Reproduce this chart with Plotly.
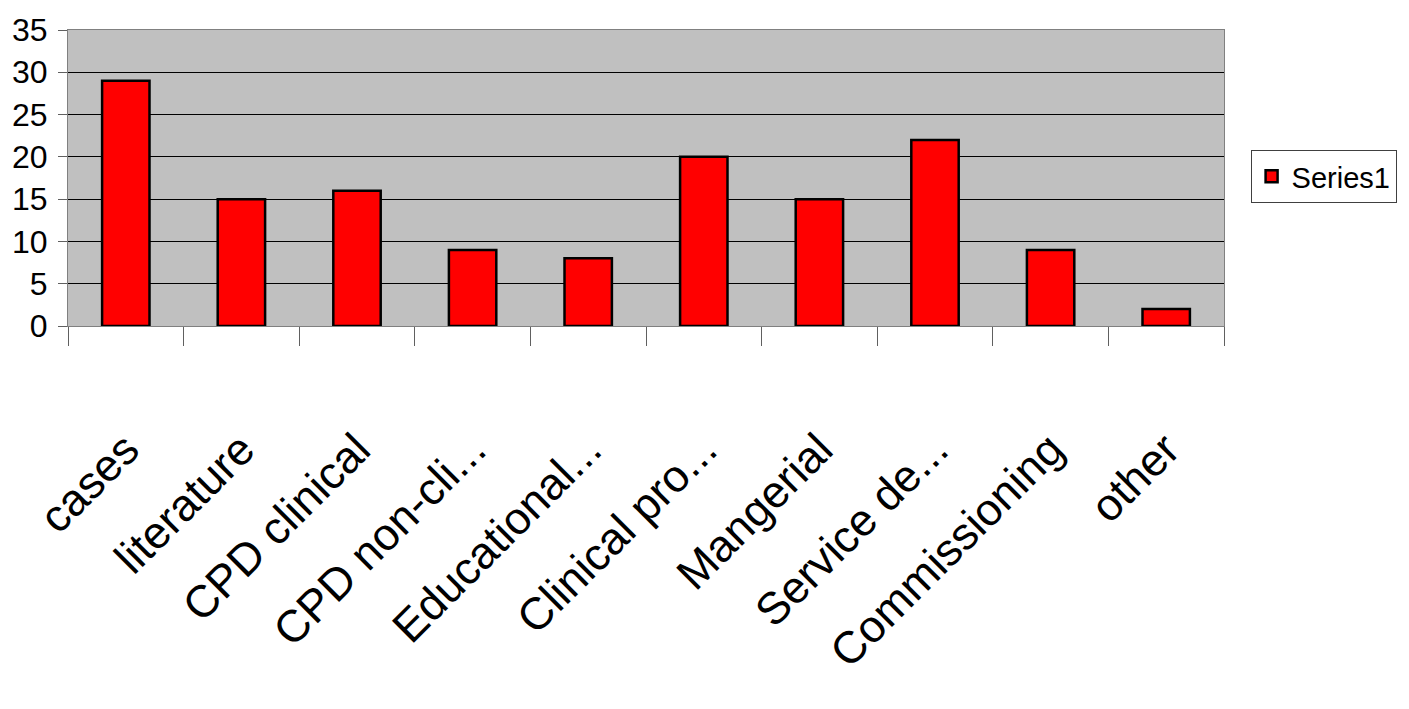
import plotly.graph_objects as go

categories = ["cases", "literature", "CPD clinical", "CPD non-cli...", "Educational...",
              "Clinical pro...", "Mangerial", "Service de...", "Commissioning", "other"]
values = [29, 15, 16, 9, 8, 20, 15, 22, 9, 2]
series_name = "Series1"
y_ticks = [0, 5, 10, 15, 20, 25, 30, 35]

FONT = "Liberation Sans Narrow, Arial Narrow, Liberation Sans, Arial, sans-serif"

fig = go.Figure()
fig.add_trace(go.Bar(
    x=categories, y=values, name=series_name,
    marker=dict(color="#FF0000", line=dict(color="#000000", width=2.5)),
    width=0.41, showlegend=True,
))

fig.update_layout(
    width=1409, height=709,
    margin=dict(l=66, r=183, t=27, b=383),
    paper_bgcolor="white", plot_bgcolor="#C0C0C0",
    font=dict(family=FONT, color="black"),
    bargap=0.59,
    legend=dict(x=1.023, y=0.505, xanchor="left", yanchor="middle",
                bordercolor="#404040", borderwidth=1, bgcolor="white",
                font=dict(size=29, family=FONT)),
)
fig.update_xaxes(
    type="category", tickangle=-45, tickfont=dict(size=45, family=FONT),
    ticks="outside", tickson="boundaries", ticklen=19, tickcolor="#606060", tickwidth=1,
    showline=True, linecolor="#808080", linewidth=1, mirror=True,
    showgrid=False, ticklabelstandoff=78,
)
fig.update_yaxes(
    range=[0, 35], tickvals=y_ticks, tickfont=dict(size=32, family=FONT),
    ticks="outside", ticklen=9, tickcolor="#606060", tickwidth=1,
    showline=True, linecolor="#808080", linewidth=1, mirror=True,
    showgrid=True, gridcolor="black", gridwidth=1, zeroline=False,
    ticklabelstandoff=4,
)
fig.write_html("out.html")
